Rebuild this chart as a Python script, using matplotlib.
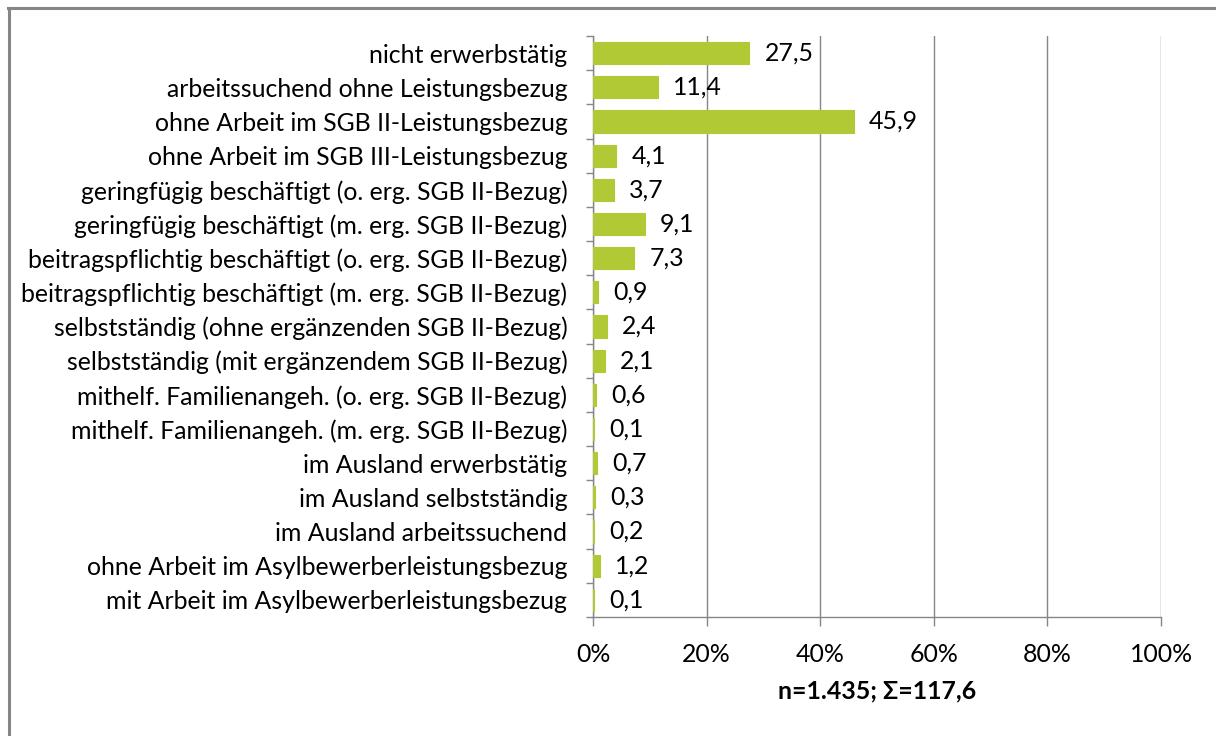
import matplotlib
matplotlib.use("Agg")
import matplotlib.pyplot as plt
from matplotlib.lines import Line2D
import numpy as np

categories = [
    "nicht erwerbstätig",
    "arbeitssuchend ohne Leistungsbezug",
    "ohne Arbeit im SGB II-Leistungsbezug",
    "ohne Arbeit im SGB III-Leistungsbezug",
    "geringfügig beschäftigt (o. erg. SGB II-Bezug)",
    "geringfügig beschäftigt (m. erg. SGB II-Bezug)",
    "beitragspflichtig beschäftigt (o. erg. SGB II-Bezug)",
    "beitragspflichtig beschäftigt (m. erg. SGB II-Bezug)",
    "selbstständig (ohne ergänzenden SGB II-Bezug)",
    "selbstständig (mit ergänzendem SGB II-Bezug)",
    "mithelf. Familienangeh. (o. erg. SGB II-Bezug)",
    "mithelf. Familienangeh. (m. erg. SGB II-Bezug)",
    "im Ausland erwerbstätig",
    "im Ausland selbstständig",
    "im Ausland arbeitssuchend",
    "ohne Arbeit im Asylbewerberleistungsbezug",
    "mit Arbeit im Asylbewerberleistungsbezug",
]
values = [27.5, 11.4, 45.9, 4.1, 3.7, 9.1, 7.3, 0.9, 2.4, 2.1, 0.6, 0.1, 0.7, 0.3, 0.2, 1.2, 0.1]
x_ticks = [0, 20, 40, 60, 80, 100]
footer = "n=1.435; Σ=117,6"

plt.rcParams['font.family'] = ['Lato', 'DejaVu Sans']
FS = 17.9
GRAY = "#868686"
GREEN = "#B1C934"

W, H = 1216, 736
fig = plt.figure(figsize=(W / 100, H / 100), dpi=100)
ax = fig.add_axes([593 / W, 1 - 617 / H, (1161 - 593) / W, (617 - 36) / H])

n = len(categories)
y = np.arange(n)
ax.barh(y, values, height=0.65, color=GREEN, edgecolor=GREEN, linewidth=0.8, zorder=3)
ax.set_ylim(n - 0.5, -0.5)
ax.set_xlim(0, 100)

for yi, v in zip(y, values):
    ax.annotate(f"{v:.1f}".replace(".", ","), (v, yi), xytext=(11, 0),
                textcoords="offset points", va="center", ha="left", fontsize=FS, color="black")

ax.set_xticks(x_ticks)
ax.set_xticklabels([f"{t}%" for t in x_ticks], fontsize=FS)
ax.tick_params(axis="x", length=6.5, width=1, color=GRAY, pad=12.5)
ax.grid(axis="x", color=GRAY, linewidth=1, zorder=0)

ax.set_yticks(np.arange(n + 1) - 0.5)
ax.set_yticklabels([])
ax.tick_params(axis="y", which="major", length=5, width=1, color=GRAY)
ax.set_yticks(y, minor=True)
ax.set_yticklabels(categories, minor=True, fontsize=FS)
ax.tick_params(axis="y", which="minor", length=0, pad=18.5)

for s in ["top", "right"]:
    ax.spines[s].set_visible(False)
for s in ["left", "bottom"]:
    ax.spines[s].set_color(GRAY)
    ax.spines[s].set_linewidth(1)

fig.text((593 + 1161) / 2 / W, 1 - 691 / H, footer, ha="center", va="center",
         fontsize=FS, fontweight="bold")

# outer border (left and top)
fig.add_artist(Line2D([9 / W, 9 / W], [0, 1 - 8 / H], color=GRAY, linewidth=2.2, transform=fig.transFigure))
fig.add_artist(Line2D([8 / W, 1], [1 - 8 / H, 1 - 8 / H], color=GRAY, linewidth=2.2, transform=fig.transFigure))

fig.savefig("out.png", dpi=100)
